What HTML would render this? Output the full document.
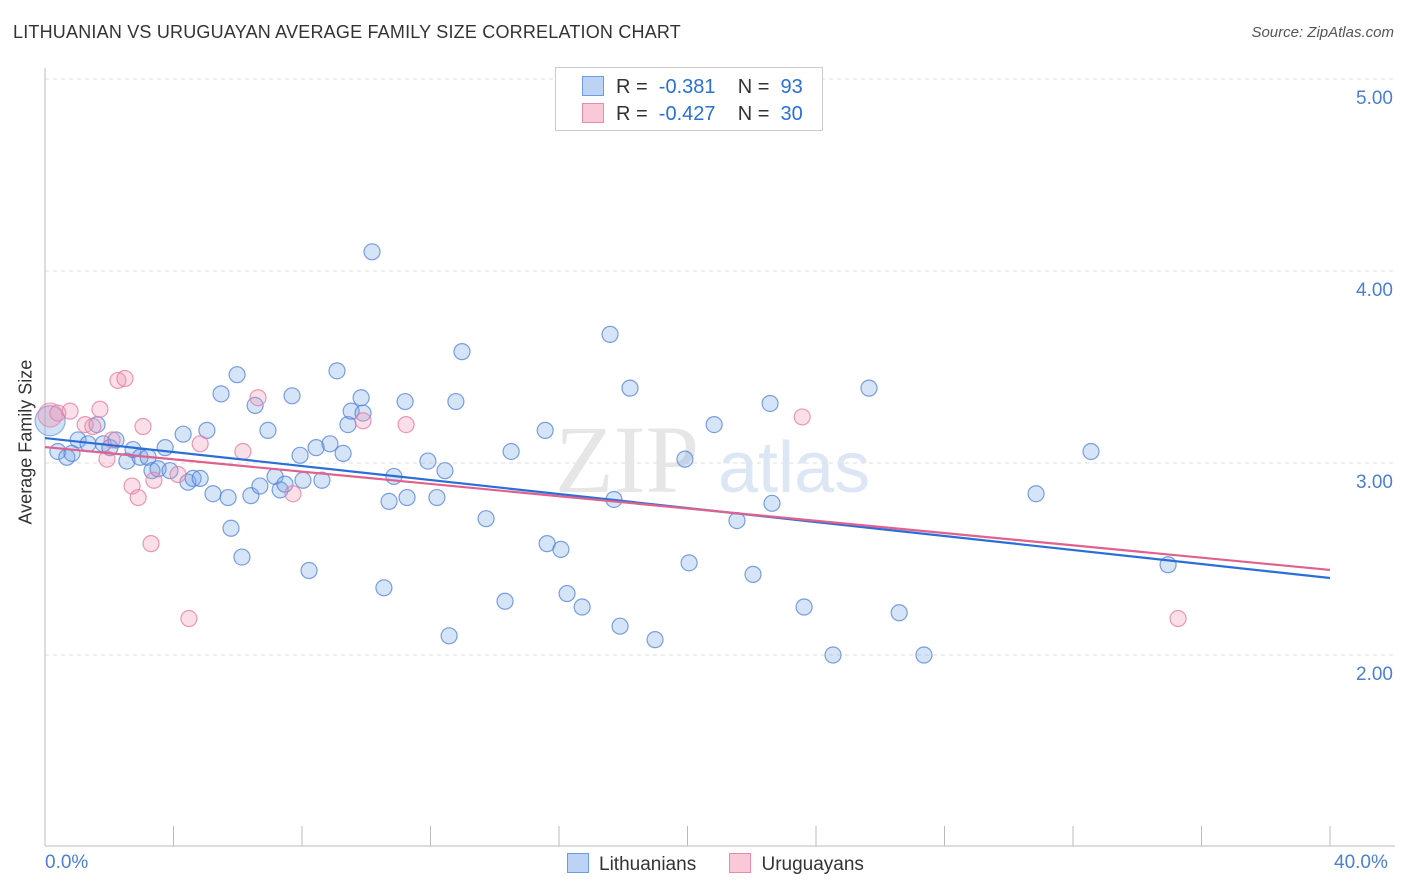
<!DOCTYPE html>
<html><head><meta charset="utf-8">
<style>
body{margin:0;background:#fff;font-family:"Liberation Sans",sans-serif;}
#wrap{position:relative;width:1406px;height:892px;overflow:hidden;}
.t{position:absolute;white-space:nowrap;}
</style></head>
<body>
<div id="wrap">
<div class="t" style="left:13px;top:22px;font-size:18px;color:#333;letter-spacing:0.2px">LITHUANIAN VS URUGUAYAN AVERAGE FAMILY SIZE CORRELATION CHART</div>
<div class="t" style="right:12px;top:24px;font-size:15px;color:#555;font-style:italic">Source: ZipAtlas.com</div>
<svg id="svg" width="1406" height="892" style="position:absolute;left:0;top:0"></svg>
</div>
<script>
const blueX=[0.40,0.68,0.84,1.03,1.34,1.62,1.81,2.02,2.21,2.55,2.74,2.96,3.21,3.33,3.52,3.74,3.89,4.30,4.45,4.61,4.83,5.04,5.23,5.48,5.70,5.79,5.98,6.13,6.41,6.54,6.69,6.94,7.16,7.32,7.47,7.69,7.94,8.03,8.22,8.44,8.62,8.87,9.09,9.28,9.43,9.53,9.84,9.90,10.18,10.55,10.71,10.86,11.21,11.27,11.92,12.20,12.45,12.58,12.79,12.98,13.73,14.32,14.51,15.57,15.63,16.06,16.25,16.72,17.59,17.71,17.90,18.21,18.99,19.92,20.05,20.83,21.54,22.04,22.57,22.63,23.63,24.53,25.65,26.59,27.36,30.85,32.56,34.96];
const blueY=[3.06,3.03,3.05,3.12,3.10,3.20,3.10,3.08,3.12,3.01,3.07,3.03,3.03,2.96,2.97,3.08,2.96,3.15,2.90,2.92,2.92,3.17,2.84,3.36,2.82,2.66,3.46,2.51,2.83,3.30,2.88,3.17,2.93,2.86,2.89,3.35,3.04,2.91,2.44,3.08,2.91,3.10,3.48,3.05,3.20,3.27,3.34,3.26,4.10,2.35,2.80,2.93,3.32,2.82,3.01,2.82,2.96,2.10,3.32,3.58,2.71,2.28,3.06,3.17,2.58,2.55,2.32,2.25,3.67,2.81,2.15,3.39,2.08,3.02,2.48,3.20,2.70,2.42,3.31,2.79,2.25,2.00,3.39,2.22,2.00,2.84,3.06,2.47];
const pinkX=[0.40,0.78,1.25,1.49,1.71,1.93,2.09,2.27,2.49,2.71,2.90,3.05,3.30,3.39,4.14,4.48,4.83,6.16,6.63,7.72,9.90,11.24,23.57,35.27];
const pinkY=[3.26,3.27,3.20,3.19,3.28,3.02,3.12,3.43,3.44,2.88,2.82,3.19,2.58,2.91,2.94,2.19,3.10,3.06,3.34,2.84,3.22,3.20,3.24,2.19];
const bigX=[0.16]; const bigBlueY=[3.22]; const bigPinkY=[3.25];
const blueLine=[3.130,2.401]; // y at x=0 and x=40
const pinkLine=[3.083,2.443];
const yTicks=[2,3,4,5]; const yTickLabels=["2.00","3.00","4.00","5.00"];
const xTicks=[0,4,8,12,16,20,24,28,32,36,40];

const NS="http://www.w3.org/2000/svg";
const svg=document.getElementById('svg');
const X=v=>45+v/40*1285;
const Y=v=>79+(5-v)*192;
function el(tag,attrs,parent){const e=document.createElementNS(NS,tag);for(const k in attrs)e.setAttribute(k,attrs[k]);(parent||svg).appendChild(e);return e;}

yTicks.forEach((t,i)=>{
  const g=el('line',{x1:45,x2:1395,y1:Y(t),y2:Y(t),stroke:'#ddd','stroke-dasharray':'4,4'});
  
  
  const tx=el('text',{x:1393,y:Y(t)+25,'text-anchor':'end','font-size':19,fill:'#4a7fd4','font-family':'Liberation Sans, sans-serif'});
  tx.textContent=yTickLabels[i];
  
  
});
const ax=el('line',{x1:45,x2:45,y1:68,y2:846,stroke:'#bbb'});


const bx=el('line',{x1:45,x2:1395,y1:846,y2:846,stroke:'#bbb'});


xTicks.forEach(t=>{
  const l=el('line',{x1:X(t),x2:X(t),y1:826,y2:846,stroke:'#bbb'});
  
  
});
// watermark
const wm=el('text',{x:555,y:492,'font-size':96,fill:'#e6e6e6','font-family':'Liberation Serif, serif'});wm.textContent='ZIP';


const wm2=el('text',{x:718,y:492,'font-size':72,fill:'#dce6f5','font-family':'Liberation Sans, sans-serif'});wm2.textContent='atlas';



function pts(xs,ys,fill,stroke,r,name){
  xs.forEach((x,i)=>{
    const c=el('circle',{cx:X(x),cy:Y(ys[i]),r:r,fill:fill,stroke:stroke,'stroke-width':1.2});
    
    
  });
}
pts(bigX,bigBlueY,'rgba(120,165,230,0.35)','rgba(80,130,215,0.6)',15,'lithuanian-point');
pts(bigX,bigPinkY,'rgba(240,150,180,0.35)','rgba(230,120,160,0.6)',12,'uruguayan-point');
pts(blueX,blueY,'rgba(120,165,230,0.3)','rgba(80,130,215,0.75)',8,'lithuanian-point');
pts(pinkX,pinkY,'rgba(240,150,180,0.3)','rgba(230,120,160,0.75)',8,'uruguayan-point');
const bl=el('line',{x1:X(0),y1:Y(blueLine[0]),x2:X(40),y2:Y(blueLine[1]),stroke:'#2a6fd6','stroke-width':2.2});


const pl=el('line',{x1:X(0),y1:Y(pinkLine[0]),x2:X(40),y2:Y(pinkLine[1]),stroke:'#e0608e','stroke-width':2.2});


</script>
<div class="t" style="left:-44px;top:444px;font-size:18px;color:#333;transform:rotate(-90deg);width:140px;text-align:center">Average Family Size</div>
<div class="t" style="left:45px;top:852px;font-size:19px;color:#4a7fd4">0.0%</div>
<div class="t" style="left:1334px;top:852px;font-size:19px;color:#4a7fd4">40.0%</div>
<div style="position:absolute;left:555px;top:67px;width:266px;height:62px;border:1px solid #ccc;background:#fff;font-size:20px;color:#333">
 <div style="position:absolute;left:26px;top:8px;white-space:nowrap"><span style="display:inline-block;width:20px;height:18px;background:#bcd3f5;border:1px solid #6d9be0;vertical-align:-3px;margin-right:12px"></span>R = &nbsp;<span style="color:#2a6fd6">-0.381</span>&nbsp;&nbsp;&nbsp;&nbsp;N = &nbsp;<span style="color:#2a6fd6">93</span></div>
 <div style="position:absolute;left:26px;top:35px;white-space:nowrap"><span style="display:inline-block;width:20px;height:18px;background:#f9c9d8;border:1px solid #e88aab;vertical-align:-3px;margin-right:12px"></span>R = &nbsp;<span style="color:#2a6fd6">-0.427</span>&nbsp;&nbsp;&nbsp;&nbsp;N = &nbsp;<span style="color:#2a6fd6">30</span></div>
</div>
<div style="position:absolute;left:567px;top:853px;font-size:19px;color:#333;white-space:nowrap">
 <span><span style="display:inline-block;width:20px;height:18px;background:#bcd3f5;border:1px solid #6d9be0;vertical-align:-3px;margin-right:10px"></span>Lithuanians</span>
 <span style="margin-left:28px"><span style="display:inline-block;width:20px;height:18px;background:#f9c9d8;border:1px solid #e88aab;vertical-align:-3px;margin-right:10px"></span>Uruguayans</span>
</div>
</body></html>
